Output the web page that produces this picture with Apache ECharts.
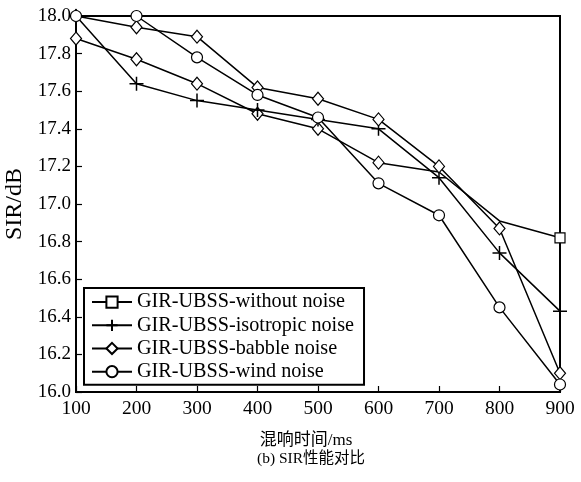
<!DOCTYPE html>
<html><head><meta charset="utf-8">
<script src="https://cdn.jsdelivr.net/npm/echarts@6/dist/echarts.min.js"></script>
<style>html,body{margin:0;padding:0;background:#fff}#c{width:581px;height:482px}</style>
</head><body><div id="c"></div>
<script>
const xValues = [100, 200, 300, 400, 500, 600, 700, 800, 900];
const withoutNoise = [17.88, 17.77, 17.64, 17.48, 17.40, 17.22, 17.17, 16.91, 16.82];
const isotropicNoise = [18.00, 17.64, 17.55, 17.50, 17.45, 17.40, 17.14, 16.74, 16.43];
const babbleNoise = [18.00, 17.94, 17.89, 17.62, 17.56, 17.45, 17.20, 16.87, 16.10];
const windNoise = [18.00, 18.00, 17.78, 17.58, 17.46, 17.11, 16.94, 16.45, 16.04];
const seriesNames = ['GIR-UBSS-without noise', 'GIR-UBSS-isotropic noise', 'GIR-UBSS-babble noise', 'GIR-UBSS-wind noise'];
// per-point marker of the first series as drawn in the figure
const withoutNoiseMarks = ['diamond','diamond','diamond','diamond','diamond','diamond','none','none','rect'];

const serif = '"Liberation Serif","Noto Sans CJK SC",serif';
const plus = 'path://M0,-7L0,7M-7,0L7,0';
const hollow = {color:'#fff', borderColor:'#000', borderWidth:1.2};

function pts(vals){ return xValues.map((x,i)=>[x, vals[i]]); }

const chart = echarts.init(document.getElementById('c'));
chart.setOption({
  animation:false,
  backgroundColor:'#fff',
  textStyle:{fontFamily:serif, color:'#000'},
  title:{text:'(b) SIR性能对比', left:306, textAlign:'center', top:446,
    textStyle:{fontFamily:serif, fontSize:15.5, fontWeight:'normal', color:'#000'}},
  grid:{left:76, top:16, right:21, bottom:90, show:true, borderColor:'#000', borderWidth:2,
    containLabel:false, outerBoundsMode:'none'},
  legend:{
    orient:'vertical', left:84, top:288,
    data:seriesNames,
    itemWidth:40, itemHeight:14, itemGap:3,
    padding:[4,10,3,7],
    borderColor:'#000', borderWidth:2, backgroundColor:'#fff',
    textStyle:{fontFamily:serif, fontSize:20.2, color:'#000', padding:[0,0,0,0]}
  },
  xAxis:{type:'value', min:100, max:900, interval:100,
    name:'混响时间/ms', nameLocation:'middle', nameGap:40,
    nameTextStyle:{fontFamily:serif, fontSize:17, color:'#000', padding:[0,24,0,0]},
    axisLine:{lineStyle:{color:'#000', width:2}},
    axisTick:{inside:true, length:6, lineStyle:{color:'#000', width:1.2}},
    axisLabel:{fontFamily:serif, fontSize:19.5, color:'#000', margin:7},
    splitLine:{show:false}},
  yAxis:{type:'value', min:16, max:18, interval:0.2,
    name:'SIR/dB', nameLocation:'middle', nameGap:39, nameRotate:90,
    nameTextStyle:{fontFamily:serif, fontSize:24, color:'#000'},
    axisLine:{lineStyle:{color:'#000', width:2}},
    axisTick:{inside:true, length:6, lineStyle:{color:'#000', width:1.2}},
    axisLabel:{fontFamily:serif, fontSize:19, color:'#000', margin:5, formatter:v=>v.toFixed(1)},
    splitLine:{show:false}},
  series:[
    {name:seriesNames[0], type:'line', symbol:'rect', symbolSize:10,
      data:pts(withoutNoise).map((p,i)=>({value:p, symbol:withoutNoiseMarks[i], symbolSize: withoutNoiseMarks[i]==='diamond'?[11,13]:10})),
      lineStyle:{color:'#000', width:1.5}, itemStyle:hollow, z:2},
    {name:seriesNames[1], type:'line', symbol:plus, symbolSize:14, data:pts(isotropicNoise),
      lineStyle:{color:'#000', width:1.5}, itemStyle:{color:'#000', borderColor:'#000', borderWidth:1.5}, z:3},
    {name:seriesNames[2], type:'line', symbol:'diamond', symbolSize:[11,13], data:pts(babbleNoise),
      lineStyle:{color:'#000', width:1.5}, itemStyle:hollow, z:4},
    {name:seriesNames[3], type:'line', symbol:'circle', symbolSize:11, data:pts(windNoise),
      lineStyle:{color:'#000', width:1.5}, itemStyle:hollow, z:5}
  ]
});
</script></body></html>
